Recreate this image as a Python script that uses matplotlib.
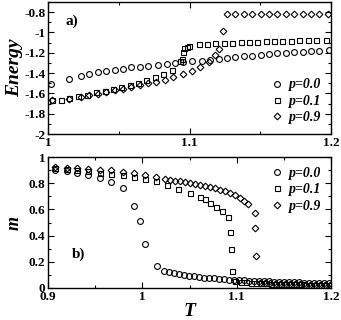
import matplotlib
matplotlib.use("Agg")
import matplotlib.pyplot as plt
from matplotlib.ticker import MultipleLocator

# ---- panel a): Energy vs T ----
Ta_p00 = [1.0019, 1.0149, 1.0233, 1.0292, 1.0351, 1.0410, 1.0470, 1.0529, 1.0588, 1.0648,
          1.0707, 1.0778, 1.0837, 1.0897, 1.0956, 1.1015, 1.1087, 1.1146, 1.1205, 1.1265,
          1.1324, 1.1383, 1.1442, 1.1502, 1.1561, 1.1620, 1.1680, 1.1739, 1.1798, 1.1858,
          1.1917, 1.1988]
Ea_p00 = [-1.511, -1.461, -1.431, -1.412, -1.392, -1.379, -1.365, -1.355, -1.345, -1.339,
          -1.326, -1.316, -1.306, -1.296, -1.295, -1.286, -1.279, -1.276, -1.263, -1.253,
          -1.246, -1.236, -1.230, -1.223, -1.213, -1.207, -1.200, -1.193, -1.190, -1.187,
          -1.180, -1.174]

Ta_p01 = [1.0031, 1.0090, 1.0149, 1.0209, 1.0273, 1.0339, 1.0399, 1.0458, 1.0517, 1.0577,
          1.0636, 1.0695, 1.0754, 1.0814, 1.0873, 1.0932, 1.0944, 1.0951, 1.0963, 1.0980,
          1.0999, 1.1063, 1.1122, 1.1181, 1.1241, 1.1300, 1.1360, 1.1419, 1.1478, 1.1537,
          1.1597, 1.1656, 1.1715, 1.1775, 1.1834, 1.1893, 1.1964]
Ea_p01 = [-1.663, -1.660, -1.643, -1.630, -1.613, -1.590, -1.577, -1.557, -1.537, -1.517,
          -1.494, -1.471, -1.438, -1.405, -1.372, -1.286, -1.266, -1.190, -1.157, -1.140,
          -1.130, -1.114, -1.111, -1.107, -1.104, -1.101, -1.098, -1.094, -1.091, -1.088,
          -1.088, -1.084, -1.081, -1.078, -1.078, -1.074, -1.071]

Ta_p09 = [1.0031, 1.0149, 1.0233, 1.0292, 1.0351, 1.0410, 1.0470, 1.0529, 1.0588, 1.0648,
          1.0707, 1.0766, 1.0826, 1.0885, 1.0956, 1.1015, 1.1075, 1.1134, 1.1180, 1.1205,
          1.1236, 1.1265, 1.1324, 1.1383, 1.1442, 1.1502, 1.1561, 1.1620, 1.1680, 1.1739,
          1.1798, 1.1858, 1.1917, 1.1976]
Ea_p09 = [-1.669, -1.653, -1.636, -1.620, -1.603, -1.587, -1.570, -1.554, -1.537, -1.517,
          -1.501, -1.488, -1.471, -1.438, -1.405, -1.379, -1.339, -1.295, -1.220, -1.167,
          -0.990, -0.820, -0.820, -0.820, -0.820, -0.820, -0.820, -0.820, -0.820, -0.820,
          -0.820, -0.820, -0.820, -0.820]

# ---- panel b): m vs T ----
Tb_p00 = [0.9074, 0.9197, 0.9310, 0.9426, 0.9550, 0.9670, 0.9795, 0.9910, 0.9975, 1.0028,
          1.0151, 1.0225, 1.0278, 1.0331, 1.0384, 1.0437, 1.0490, 1.0543, 1.0596, 1.0649,
          1.0702, 1.0755, 1.0808, 1.0861, 1.0914, 1.0967, 1.1020, 1.1073, 1.1126, 1.1179,
          1.1232, 1.1285, 1.1338, 1.1391, 1.1444, 1.1497, 1.1550, 1.1603, 1.1656, 1.1709,
          1.1762, 1.1815, 1.1868, 1.1921, 1.1974]
mb_p00 = [0.905, 0.895, 0.878, 0.862, 0.837, 0.812, 0.766, 0.626, 0.509, 0.338,
          0.168, 0.130, 0.122, 0.114, 0.107, 0.100, 0.094, 0.089, 0.084, 0.080,
          0.076, 0.073, 0.070, 0.067, 0.064, 0.062, 0.060, 0.058, 0.056, 0.054,
          0.053, 0.051, 0.050, 0.049, 0.047, 0.046, 0.045, 0.044, 0.043, 0.042,
          0.041, 0.040, 0.039, 0.038, 0.037]

Tb_p01 = [0.9074, 0.9197, 0.9310, 0.9426, 0.9550, 0.9670, 0.9795, 0.9910, 1.0025, 1.0148,
          1.0257, 1.0380, 1.0504, 1.0609, 1.0662, 1.0715, 1.0782, 1.0845, 1.0909, 1.0933,
          1.0944, 1.0954, 1.0986, 1.1040, 1.1093, 1.1146, 1.1199, 1.1252, 1.1305, 1.1358,
          1.1411, 1.1464, 1.1517, 1.1570, 1.1623, 1.1676, 1.1729, 1.1782, 1.1835, 1.1888,
          1.1941, 1.1990]
mb_p01 = [0.915, 0.908, 0.900, 0.892, 0.882, 0.872, 0.862, 0.850, 0.835, 0.815,
          0.789, 0.758, 0.728, 0.695, 0.677, 0.651, 0.620, 0.590, 0.544, 0.430,
          0.295, 0.130, 0.053, 0.048, 0.045, 0.042, 0.040, 0.038, 0.036, 0.034,
          0.033, 0.031, 0.030, 0.029, 0.028, 0.027, 0.026, 0.025, 0.024, 0.023,
          0.022, 0.022]

Tb_p09 = [0.9074, 0.9197, 0.9310, 0.9426, 0.9550, 0.9670, 0.9795, 0.9910, 1.0025, 1.0148,
          1.0239, 1.0292, 1.0345, 1.0398, 1.0451, 1.0504, 1.0556, 1.0609, 1.0662, 1.0715,
          1.0768, 1.0820, 1.0873, 1.0926, 1.0979, 1.1032, 1.1080, 1.1120, 1.1190, 1.1197,
          1.1199, 1.1250, 1.1303, 1.1356, 1.1409, 1.1462, 1.1515, 1.1568, 1.1621, 1.1674,
          1.1727, 1.1780, 1.1833, 1.1886, 1.1939, 1.1992]
mb_p09 = [0.925, 0.920, 0.915, 0.910, 0.905, 0.900, 0.890, 0.878, 0.862, 0.848,
          0.835, 0.827, 0.819, 0.814, 0.809, 0.804, 0.796, 0.789, 0.781, 0.771,
          0.761, 0.748, 0.738, 0.725, 0.707, 0.687, 0.667, 0.644, 0.575, 0.460,
          0.246, 0.040, 0.037, 0.035, 0.033, 0.031, 0.030, 0.029, 0.028, 0.027,
          0.026, 0.025, 0.024, 0.023, 0.022, 0.021]

labels = ["p=0.0", "p=0.1", "p=0.9"]
markers = ["o", "s", "D"]

plt.rcParams['font.family'] = ['Liberation Serif', 'DejaVu Serif']
plt.rcParams['font.weight'] = 'bold'

fig = plt.figure(figsize=(3.41, 3.20), dpi=100)
ax1 = fig.add_axes([0.141, 0.581, 0.830, 0.413])
ax2 = fig.add_axes([0.141, 0.100, 0.830, 0.409])

msz = {"o": 4.2, "s": 3.6, "D": 3.4}

def draw(ax, series):
    for (x, y), mk, lab in zip(series, markers, labels):
        ax.plot(x, y, linestyle='none', marker=mk, ms=msz[mk], mfc='none',
                mec='black', mew=0.8, label=lab)

draw(ax1, [(Ta_p00, Ea_p00), (Ta_p01, Ea_p01), (Ta_p09, Ea_p09)])
draw(ax2, [(Tb_p00, mb_p00), (Tb_p01, mb_p01), (Tb_p09, mb_p09)])

ax1.set_xlim(1.0, 1.2)
ax1.set_ylim(-2.0, -0.7)
ax1.xaxis.set_minor_locator(MultipleLocator(0.05))
ax1.yaxis.set_minor_locator(MultipleLocator(0.1))
ax1.set_xticks([1.0, 1.1, 1.2])
ax1.set_xticklabels(["1", "1.1", "1.2"])
ax1.set_yticks([-2, -1.8, -1.6, -1.4, -1.2, -1, -0.8])
ax1.set_yticklabels(["-2", "-1.8", "-1.6", "-1.4", "-1.2", "-1", "-0.8"])
ax1.set_ylabel("Energy", fontsize=14, fontweight='bold', style='italic', labelpad=1)
ax1.text(1.012, -0.93, "a)", fontsize=11, fontweight='bold')

ax2.set_xlim(0.9, 1.2)
ax2.set_ylim(0.0, 1.0)
ax2.xaxis.set_minor_locator(MultipleLocator(0.05))
ax2.yaxis.set_minor_locator(MultipleLocator(0.1))
ax2.set_xticks([0.9, 1.0, 1.1, 1.2])
ax2.set_xticklabels(["0.9", "1", "1.1", "1.2"])
ax2.set_yticks([0, 0.2, 0.4, 0.6, 0.8, 1])
ax2.set_yticklabels(["0", "0.2", "0.4", "0.6", "0.8", "1"])
ax2.set_ylabel("m", fontsize=13, fontweight='bold', style='italic', labelpad=4)
ax2.set_xlabel("T", fontsize=14, fontweight='bold', style='italic', labelpad=0)
ax2.text(0.925, 0.23, "b)", fontsize=11, fontweight='bold')

for ax in (ax1, ax2):
    ax.tick_params(which='both', direction='in', top=True, right=True,
                   labelsize=9.5, pad=2)
    ax.tick_params(which='major', length=4.5, width=0.8)
    ax.tick_params(which='minor', length=2.5, width=0.8)
    for lab in ax.get_xticklabels() + ax.get_yticklabels():
        lab.set_fontweight('bold')
    for s in ax.spines.values():
        s.set_linewidth(1.0)

leg_kw = dict(frameon=False, prop={'size': 10, 'weight': 'bold', 'style': 'italic'},
              handletextpad=0.3, labelspacing=0.25, borderaxespad=0.3, handlelength=1.2)
ax1.legend(loc='lower right', **leg_kw)
ax2.legend(loc='upper right', **leg_kw)

fig.savefig("out.png", dpi=100)
